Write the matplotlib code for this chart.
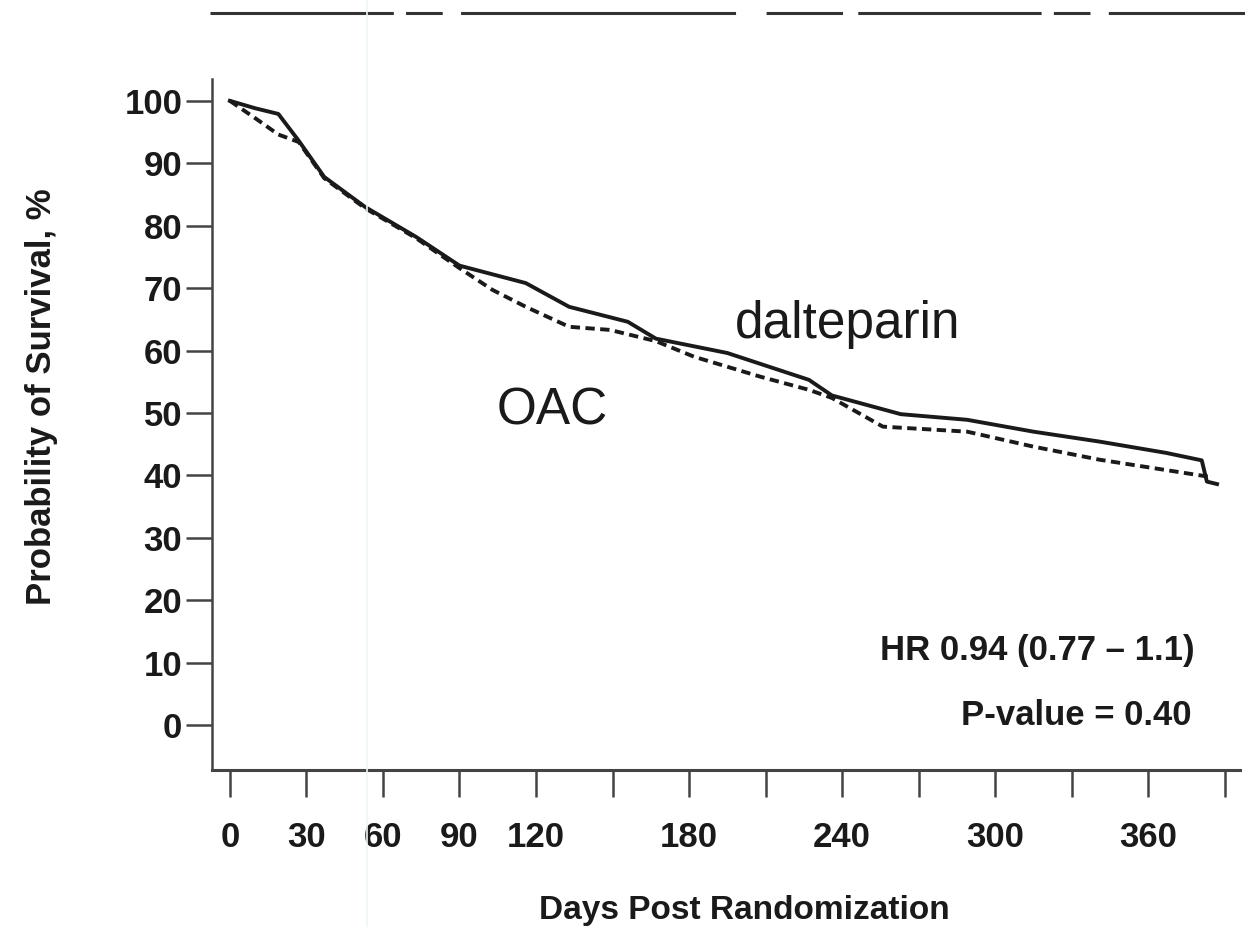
"""Kaplan-Meier survival, dalteparin vs OAC, over the first year post randomization."""

import matplotlib

matplotlib.use("Agg")
import matplotlib.pyplot as plt
from matplotlib import font_manager
from matplotlib.lines import Line2D

# --- survival curves (day, % surviving) -----------------------------------------
DALT_DAYS = [0, 10, 19, 27, 37, 53, 73, 90, 116, 133, 156, 167, 195, 227, 236,
             263, 289, 315, 341, 367, 381, 383, 387]
DALT_PCT = [100, 98.8, 97.9, 93.6, 87.8, 83.0, 78.2, 73.6, 70.8, 67.0, 64.6, 61.9,
            59.6, 55.3, 52.8, 49.8, 48.9, 47.0, 45.4, 43.6, 42.4, 39.0, 38.6]

OAC_DAYS = [0, 10, 19, 27, 37, 53, 73, 90, 103, 116, 133, 149, 167, 182, 208, 227,
            236, 256, 289, 315, 341, 374, 385]
OAC_PCT = [100, 97.2, 94.6, 93.4, 87.6, 82.8, 78.0, 73.2, 69.7, 67.0, 63.8, 63.3,
           61.5, 59.0, 55.8, 53.7, 52.4, 47.8, 47.0, 44.6, 42.5, 40.4, 39.7]

X_TICKS = list(range(0, 391, 30))
X_LABELS = ["0", "30", "60", "90", "120", "", "180", "", "240", "", "300", "", "360", ""]
Y_TICKS = list(range(0, 101, 10))

HR_TEXT = "HR 0.94 (0.77 \u2013 1.1)"
P_TEXT = "P-value = 0.40"

INK = "#1a1a1a"
AXIS = "#444444"


def _pick(*names):
    have = {f.name for f in font_manager.fontManager.ttflist}
    for n in names:
        if n in have:
            return n
    return "DejaVu Sans"


def main():
    sans = _pick("Liberation Sans", "Arial", "DejaVu Sans")
    narrow = _pick("Liberation Sans Narrow", "Liberation Sans", "DejaVu Sans")
    tick_size = 28 if narrow == "Liberation Sans Narrow" else 25

    fig = plt.figure(figsize=(12.45, 9.27), dpi=100)
    ax = fig.add_axes([0.1703, 0.1694, 0.8257, 0.7454])
    ax.set_xlim(-7, 396)
    ax.set_ylim(-7.2, 103.5)

    ax.plot(DALT_DAYS, DALT_PCT, color=INK, lw=2.8, zorder=3)
    ax.plot(OAC_DAYS, OAC_PCT, color=INK, lw=2.8, linestyle=(0, (2.4, 1.4)), zorder=3)

    for side in ("top", "right"):
        ax.spines[side].set_visible(False)
    ax.spines["left"].set_color(AXIS)
    ax.spines["bottom"].set_color(AXIS)
    ax.spines["left"].set_linewidth(1.8)
    ax.spines["bottom"].set_linewidth(2.2)

    ax.set_xticks(X_TICKS)
    ax.set_xticklabels(X_LABELS)
    ax.set_yticks(Y_TICKS)
    ax.tick_params(axis="x", length=19.5, width=1.8, color=AXIS, pad=17)
    ax.tick_params(axis="y", length=18.5, width=1.8, color=AXIS, pad=3)
    for lab in ax.get_xticklabels() + ax.get_yticklabels():
        lab.set_fontfamily(narrow)
        lab.set_fontweight("bold")
        lab.set_fontsize(tick_size)
        lab.set_color(INK)

    ax.text(198, 62, "dalteparin", fontsize=37, family=sans, color=INK,
            ha="left", va="baseline")
    ax.text(104.7, 48.1, "OAC", fontsize=37, family=sans, color=INK,
            ha="left", va="baseline")
    ax.text(378.4, 11.9, HR_TEXT, fontsize=25, family=sans, fontweight="bold",
            color=INK, ha="right", va="center")
    ax.text(377, 1.6, P_TEXT, fontsize=25, family=sans, fontweight="bold",
            color=INK, ha="right", va="center")

    fig.text(0.598, 1 - 910 / 927, "Days Post Randomization", fontsize=24,
             family=sans, fontweight="bold", color=INK, ha="center", va="center")
    fig.text(42 / 1245, 1 - 397 / 927, "Probability of Survival, %", fontsize=25,
             family=sans, fontweight="bold", color=INK, ha="center", va="center",
             rotation=90)

    # ragged rule along the top edge and a faint vertical streak
    fig.add_artist(Line2D([210 / 1245, 1.0], [1 - 13 / 927] * 2, color="#333333",
                          lw=2.2, linestyle=(0, (60, 4, 12, 6, 90, 10, 25, 5))))
    fig.add_artist(Line2D([367 / 1245] * 2, [0, 1], color="#edf6f8", lw=1.2))

    fig.savefig("out.png", dpi=100, facecolor="white")
    plt.close(fig)


if __name__ == "__main__":
    main()
